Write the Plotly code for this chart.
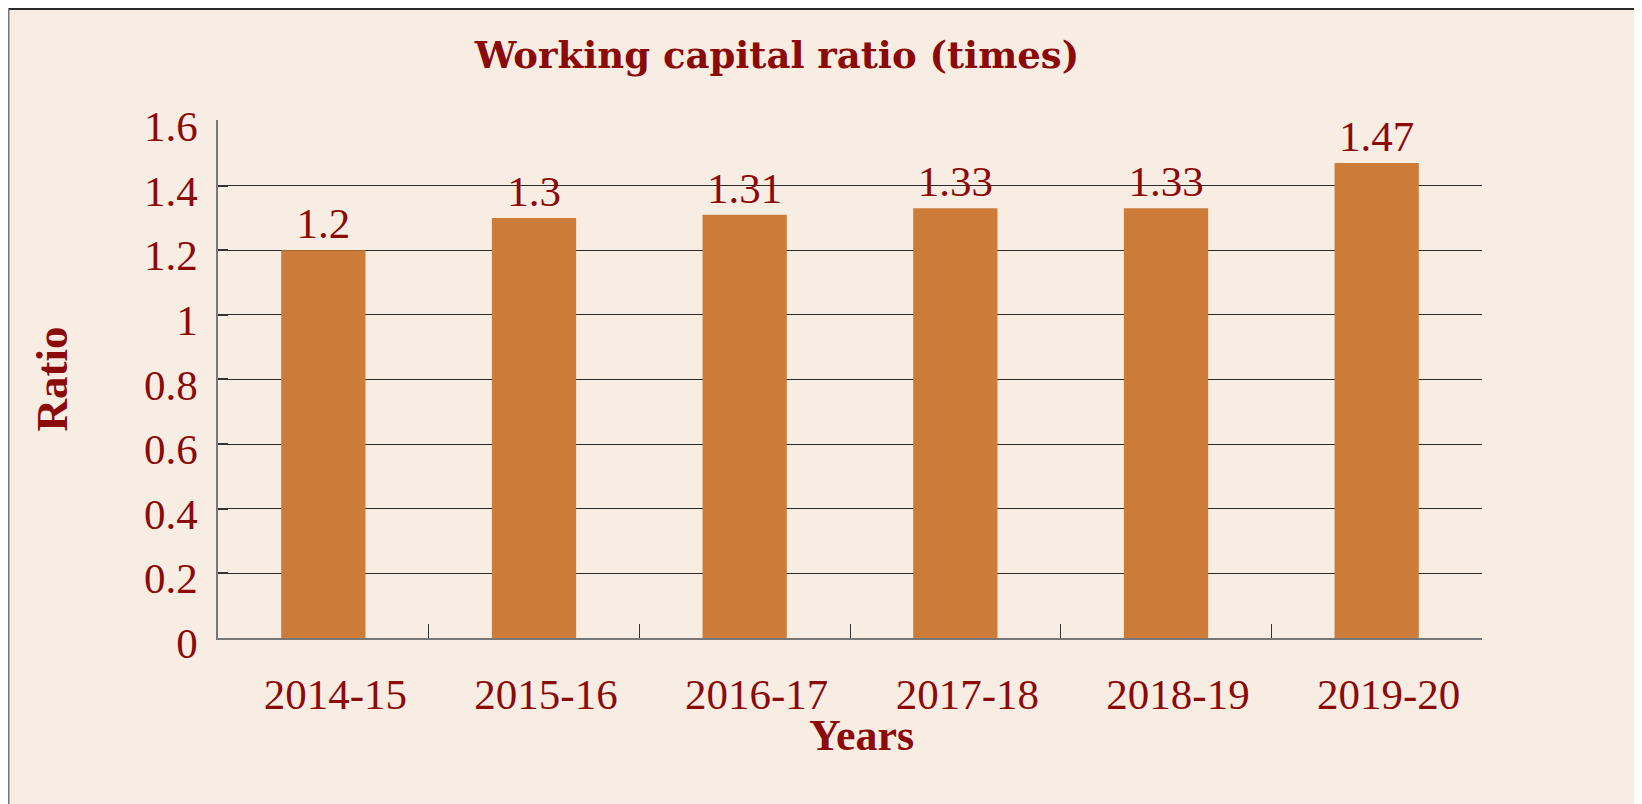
import plotly.graph_objects as go

years = ["2014-15", "2015-16", "2016-17", "2017-18", "2018-19", "2019-20"]
ratios = [1.2, 1.3, 1.31, 1.33, 1.33, 1.47]
y_ticks = [0, 0.2, 0.4, 0.6, 0.8, 1, 1.2, 1.4, 1.6]

# page has an 8px body margin; figure is placed at (8, 8)
OFF = 8
W, H = 1642 - OFF, 804 - OFF
L, R, T, B = 218 - OFF, 160, 120 - OFF, 166
TXT = "#8B0A0A"
FONT = "Liberation Serif"

fig = go.Figure(
    go.Bar(
        x=years,
        y=ratios,
        marker=dict(color="#CD7B39", line=dict(width=0)),
        text=[str(v) for v in ratios],
        textposition="outside",
        textfont=dict(family=FONT, size=43, color=TXT),
        cliponaxis=False,
        width=0.4,
    )
)

pw, ph = W - L - R, H - T - B


def px(x):
    return (x - L) / pw


def py(y):
    return (H - B - y) / ph


fig.update_layout(
    width=W,
    height=H,
    margin=dict(l=L, r=R, t=T, b=B, pad=0),
    paper_bgcolor="#F8EDE3",
    plot_bgcolor="#F8EDE3",
    showlegend=False,
    title=dict(
        text="<b>Working capital ratio (times)</b>",
        font=dict(family="DejaVu Serif", size=37, color=TXT),
        x=(777 - OFF) / W,
        xanchor="center",
        y=1 - (55 - OFF) / H,
        yanchor="middle",
    ),
    shapes=[
        dict(type="line", xref="paper", yref="paper",
             x0=px(0.5), x1=px(W + 20), y0=py(1), y1=py(1),
             line=dict(color="#2a2a2a", width=2)),
        dict(type="line", xref="paper", yref="paper",
             x0=px(0.5), x1=px(0.5), y0=py(1), y1=py(H + 20),
             line=dict(color="#777777", width=2)),
    ],
    annotations=[
        dict(text="<b>Years</b>", xref="paper", yref="paper",
             x=px(861 - OFF), y=py(735 - OFF), xanchor="center", yanchor="middle",
             showarrow=False, font=dict(family=FONT, size=44, color=TXT)),
    ],
)

fig.update_xaxes(
    showline=True,
    linecolor="#777777",
    linewidth=2,
    ticks="inside",
    ticklen=14,
    tickwidth=1,
    tickcolor="#333333",
    tickson="boundaries",
    showgrid=False,
    tickfont=dict(family=FONT, size=43, color=TXT),
    ticklabelstandoff=17,
    ticklabelshift=12,
)

fig.update_yaxes(
    range=[0, 1.603],
    tickvals=y_ticks,
    ticktext=[f"{v:g}" for v in y_ticks],
    showline=True,
    linecolor="#777777",
    linewidth=1.5,
    ticks="inside",
    ticklen=10,
    tickwidth=1.5,
    tickcolor="#333333",
    showgrid=True,
    gridcolor="#2b2b2b",
    gridwidth=1,
    zeroline=False,
    tickfont=dict(family=FONT, size=43, color=TXT),
    ticklabelstandoff=10,
    ticklabelshift=5,
    title=dict(text="<b>Ratio</b>", font=dict(family=FONT, size=45, color=TXT), standoff=62),
)

fig.write_html("out.html")
